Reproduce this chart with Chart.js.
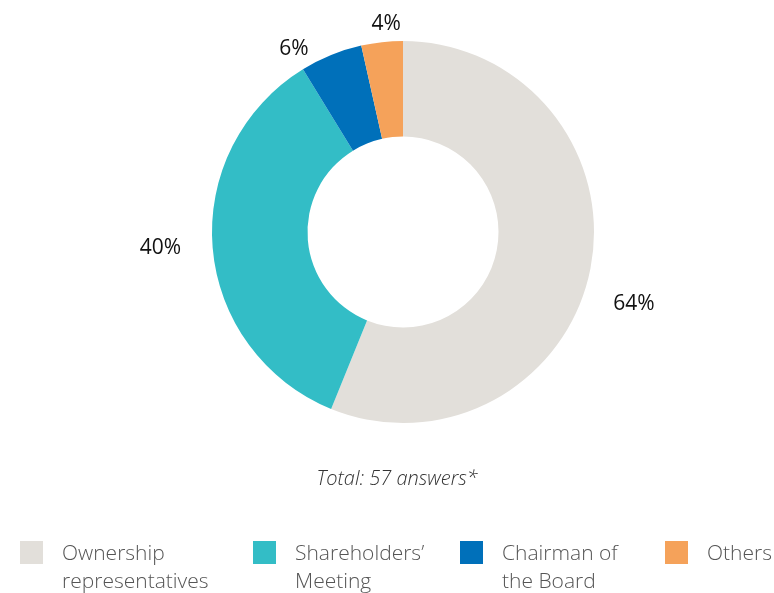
<!DOCTYPE html>
<html>
<head>
<meta charset="utf-8">
<script src="https://cdn.jsdelivr.net/npm/chart.js@4/dist/chart.umd.min.js"></script>
<style>
  html, body { margin: 0; padding: 0; background: #ffffff; }
  #wrap { position: relative; width: 774px; height: 593px; }
</style>
</head>
<body>
<div id="wrap"><canvas id="c" width="774" height="593"></canvas></div>
<script>
const categories = [["Ownership", "representatives"], ["Shareholders’", "Meeting"], ["Chairman of", "the Board"], ["Others"]];
const values = [64, 40, 6, 4];
const valueLabels = ["64%", "40%", "6%", "4%"];
const colors = ["#E2DFDA", "#33BDC6", "#0070BA", "#F5A25A"];
const titleText = "Total: 57 answers*";

const FONT = "'Open Sans', 'Noto Sans', sans-serif";

const labelPlugin = {
  id: 'outLabels',
  afterDatasetsDraw(chart, args, opts) {
    const ctx = chart.ctx;
    const meta = chart.getDatasetMeta(0);
    ctx.save();
    ctx.font = "21px " + FONT;
    ctx.fillStyle = "#111111";
    ctx.textAlign = "center";
    ctx.textBaseline = "middle";
    meta.data.forEach((arc, i) => {
      const p = arc.getProps(['x','y','startAngle','endAngle','outerRadius'], true);
      const mid = (p.startAngle + p.endAngle) / 2 + opts.shift[i] * Math.PI / 180;
      const r = p.outerRadius + opts.gap[i];
      ctx.fillText(valueLabels[i], p.x + r * Math.cos(mid), p.y + r * Math.sin(mid));
    });
    // title
    ctx.font = "italic 300 20px " + FONT;
    ctx.fillStyle = "#333333";
    ctx.textBaseline = "alphabetic";
    ctx.fillText(titleText, 397, 485);
    // legend
    const boxX = [20, 253, 460, 665];
    ctx.textAlign = "left";
    ctx.font = "300 21px " + FONT;
    categories.forEach((lines, i) => {
      ctx.fillStyle = colors[i];
      ctx.fillRect(boxX[i], 541, 23, 23);
      ctx.fillStyle = "#555555";
      lines.forEach((t, j) => ctx.fillText(t, boxX[i] + 42, 560 + j * 28));
    });
    ctx.restore();
  }
};

new Chart(document.getElementById('c'), {
  type: 'doughnut',
  data: {
    labels: categories.map(l => l.join(' ')),
    datasets: [{
      data: values,
      backgroundColor: colors,
      borderWidth: 0,
      hoverOffset: 0
    }]
  },
  options: {
    responsive: false,
    animation: false,
    cutout: '50%',
    layout: { padding: { left: 212, right: 180, top: 41, bottom: 170 } },
    plugins: {
      legend: { display: false },
      tooltip: { enabled: false },
      outLabels: { shift: [6.3, 1, -8.7, 1.7], gap: [51, 52, 22, 18] }
    }
  },
  plugins: [labelPlugin]
});
</script>
</body>
</html>
